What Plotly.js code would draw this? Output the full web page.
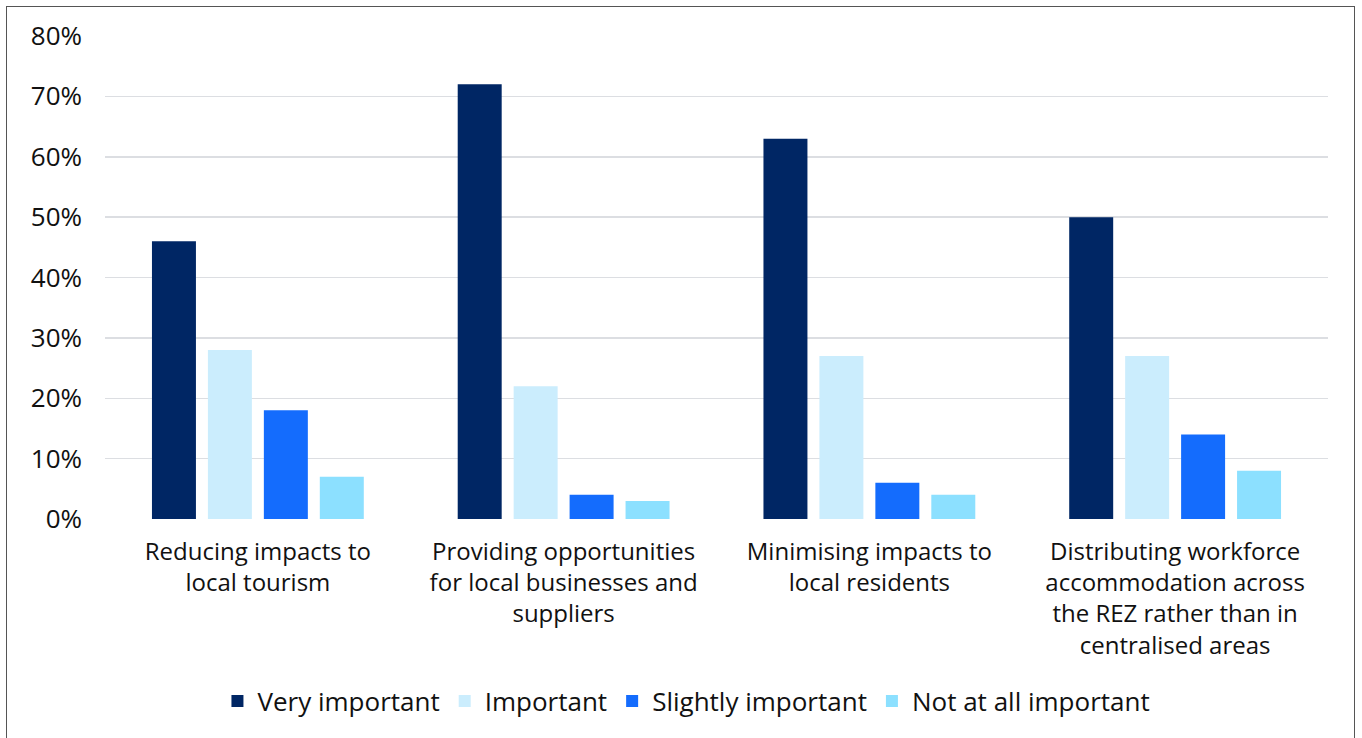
<!DOCTYPE html>
<html><head><meta charset="utf-8">
<script src="https://cdn.plot.ly/plotly-3.0.1.min.js"></script>
<style>html,body{margin:0;padding:0;background:#fff;overflow:hidden}
#frame{position:absolute;left:6px;top:6px;width:1349px;height:800px;border:1.5px solid #555;pointer-events:none;box-sizing:border-box}
#chart{width:1362px;height:738px}</style>
</head><body>
<div id="chart"></div><div id="frame"></div>
<script>
const categories = [
  "Reducing impacts to<br>local tourism",
  "Providing opportunities<br>for local businesses and<br>suppliers",
  "Minimising impacts to<br>local residents",
  "Distributing workforce<br>accommodation across<br>the REZ rather than in<br>centralised areas"
];
const seriesNames = ["Very important", "Important", "Slightly important", "Not at all important"];
const veryImportant = [0.46, 0.72, 0.63, 0.50];
const important = [0.28, 0.22, 0.27, 0.27];
const slightlyImportant = [0.18, 0.04, 0.06, 0.14];
const notAtAllImportant = [0.07, 0.03, 0.04, 0.08];
const colors = ["#002664", "#CBEDFD", "#146CFD", "#8CE0FF"];
const yTicks = [0, 0.1, 0.2, 0.3, 0.4, 0.5, 0.6, 0.7, 0.8];
const yTickText = ["0%", "10%", "20%", "30%", "40%", "50%", "60%", "70%", "80%"];

const values = [veryImportant, important, slightlyImportant, notAtAllImportant];
const font = "'Open Sans', 'Liberation Sans', Arial, sans-serif";
const traces = values.map((v, i) => ({
  type: "bar", x: categories, y: v, name: seriesNames[i],
  marker: {color: colors[i]}, hoverinfo: "none"
}));
const layout = {
  width: 1362, height: 738,
  margin: {l: 105, r: 34, t: 36, b: 219, autoexpand: false},
  paper_bgcolor: "#fff", plot_bgcolor: "#fff",
  barmode: "group", bargap: 0.268, bargroupgap: 0.214,
  font: {family: font, size: 24, color: "#111"},
  xaxis: {tickfont: {size: 24, color: "#111"}, showline: false, ticks: "", showgrid: false, zeroline: false, automargin: false, ticklabelstandoff: 16},
  yaxis: {range: [0, 0.8], tickvals: yTicks, ticktext: yTickText, tickfont: {size: 26, color: "#111"},
          showgrid: true, gridcolor: "#DCDEE2", gridwidth: 1.5, zeroline: false, showline: false, ticks: "", automargin: false, ticklabelstandoff: 22},
  showlegend: true,
  legend: {orientation: "h", xref: "container", yref: "container", x: 0.504, xanchor: "center", y: 0.05, yanchor: "middle", font: {size: 26, color: "#111"}, itemwidth: 30, tracegroupgap: 0, traceorder: "normal"}
};
Plotly.newPlot("chart", traces, layout, {staticPlot: true});
</script>
</body></html>
